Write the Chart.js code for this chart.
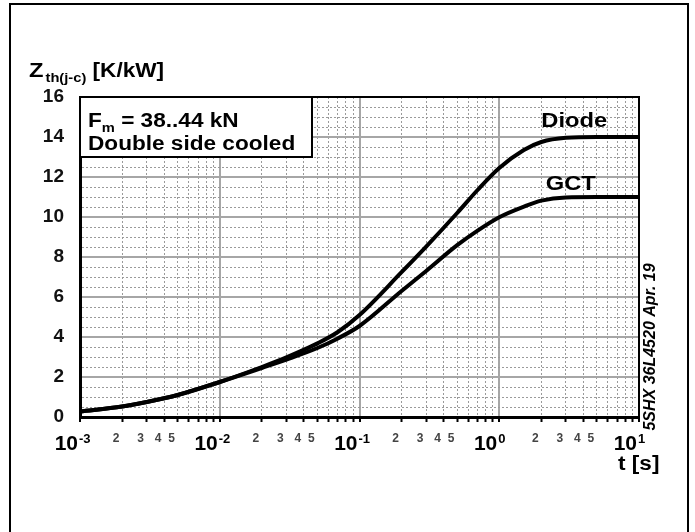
<!DOCTYPE html>
<html>
<head>
<meta charset="utf-8">
<script src="https://cdn.jsdelivr.net/npm/chart.js@4.4.1/dist/chart.umd.min.js"></script>
<style>
    html, body { margin: 0; padding: 0; background: #fff; }
    #wrap { width: 695px; height: 532px; }
</style>
</head>
<body>
<div id="wrap"><canvas id="Zth" width="695" height="532"></canvas></div>
<script>
// transient thermal impedance
const time_s    = [0.001, 0.002, 0.003, 0.005, 0.01, 0.02, 0.03, 0.05, 0.07, 0.1, 0.2, 0.3, 0.5, 0.7, 1, 1.5, 2, 3, 5, 10];
const zth_diode = [0.28, 0.52, 0.75, 1.10, 1.75, 2.50, 2.98, 3.68, 4.25, 5.10, 7.24, 8.52, 10.2, 11.35, 12.45, 13.35, 13.75, 13.96, 14.0, 14.0];
const zth_gct   = [0.28, 0.52, 0.75, 1.10, 1.75, 2.45, 2.87, 3.45, 3.93, 4.55, 6.30, 7.30, 8.59, 9.32, 9.99, 10.52, 10.82, 10.98, 11.0, 11.0];

const y_labels = [0, 2, 4, 6, 8, 10, 12, 14, 16];
const x_decades = [-3, -2, -1, 0, 1];
const x_minor_labels = [2, 3, 4, 5];

const FONT = "'Liberation Sans', Arial, sans-serif";
const SX = 1.13; // the original scan is a bit wider than tall

Chart.defaults.font.family = FONT;
Chart.defaults.font.weight = 'bold';
Chart.defaults.color = '#111';

function mantissa(v) {
    const e = Math.floor(Math.log10(v) + 1e-9);
    return Math.round(v / Math.pow(10, e));
}

function stretchText(ctx, text, x, y, font, align) {
    ctx.save();
    ctx.font = font;
    ctx.textAlign = align || 'left';
    ctx.textBaseline = 'alphabetic';
    ctx.translate(x, y);
    ctx.scale(SX, 1);
    ctx.fillText(text, 0, 0);
    const w = ctx.measureText(text).width * SX;
    ctx.restore();
    return w;
}

const decorations = {
    id: 'decorations',
    afterDatasetsDraw(chart) {
        const ctx = chart.ctx;
        const area = chart.chartArea;
        const xs = chart.scales.x;
        const ys = chart.scales.y;
        ctx.save();
        ctx.fillStyle = '#000';
        ctx.strokeStyle = '#000';

        // outer frame of the figure
        ctx.lineWidth = 2;
        ctx.beginPath();
        ctx.moveTo(10, chart.height + 5);
        ctx.lineTo(10, 4);
        ctx.lineTo(688, 4);
        ctx.lineTo(688, chart.height + 5);
        ctx.stroke();

        // top and right edges of the plot
        ctx.beginPath();
        ctx.moveTo(area.left, area.top);
        ctx.lineTo(area.right, area.top);
        ctx.lineTo(area.right, area.bottom);
        ctx.stroke();

        // condition box
        ctx.fillStyle = '#fff';
        ctx.fillRect(area.left, area.top, 232, 60);
        ctx.strokeRect(area.left, area.top, 232, 60);
        ctx.fillStyle = '#000';
        let x = area.left + 8;
        x += stretchText(ctx, 'F', x, area.top + 30, 'bold 20px ' + FONT);
        x += stretchText(ctx, 'm', x, area.top + 35, 'bold 13px ' + FONT);
        stretchText(ctx, ' = 38..44 kN', x, area.top + 30, 'bold 20px ' + FONT);
        stretchText(ctx, 'Double side cooled', area.left + 8, area.top + 53, 'bold 20px ' + FONT);

        // axis title
        x = 29;
        x += stretchText(ctx, 'Z', x, 77, 'bold 21px ' + FONT);
        x += 2;
        x += stretchText(ctx, 'th(j-c)', x, 82, 'bold 13px ' + FONT);
        stretchText(ctx, ' [K/kW]', x, 77, 'bold 20px ' + FONT);

        stretchText(ctx, 't [s]', 618, 470, 'bold 20px ' + FONT);

        // curve names
        stretchText(ctx, 'Diode', xs.getPixelForValue(2.0), ys.getPixelForValue(14.5), 'bold 21px ' + FONT);
        stretchText(ctx, 'GCT', xs.getPixelForValue(2.15), ys.getPixelForValue(11.35), 'bold 21px ' + FONT);

        // decade labels 10^n
        for (const e of x_decades) {
            const px = xs.getPixelForValue(Math.pow(10, e));
            ctx.font = 'bold 21px ' + FONT;
            ctx.textAlign = 'right';
            ctx.textBaseline = 'alphabetic';
            ctx.fillText('10', px - 2, area.bottom + 33);
            ctx.font = 'bold 13px ' + FONT;
            ctx.textAlign = 'left';
            ctx.fillText(e < 0 ? '-' + Math.abs(e) : String(e), px - 1, area.bottom + 26);
        }

        // drawing number, rotated
        ctx.save();
        ctx.translate(651, 347);
        ctx.rotate(-Math.PI / 2);
        ctx.font = 'italic bold 16px ' + FONT;
        ctx.textAlign = 'center';
        ctx.textBaseline = 'middle';
        ctx.fillText('5SHX 36L4520 Apr. 19', 0, 0);
        ctx.restore();

        ctx.restore();
    }
};

const MAJOR_GRID = '#a6a6a6';
const MINOR_GRID = '#9a9a9a';

function xIsDecade(c) {
    return c.tick && mantissa(c.tick.value) === 1;
}

function yIsMajor(c) {
    return c.tick && y_labels.includes(c.tick.value);
}

new Chart(document.getElementById('Zth'), {
    type: 'line',
    data: {
        datasets: [
            {
                label: 'Diode',
                data: time_s.map((t, i) => ({x: t, y: zth_diode[i]})),
                borderColor: '#000',
                borderWidth: 4,
                pointRadius: 0,
                cubicInterpolationMode: 'monotone',
                fill: false,
            },
            {
                label: 'GCT',
                data: time_s.map((t, i) => ({x: t, y: zth_gct[i]})),
                borderColor: '#000',
                borderWidth: 4,
                pointRadius: 0,
                cubicInterpolationMode: 'monotone',
                fill: false,
            }
        ]
    },
    options: {
        responsive: false,
        animation: false,
        layout: {
            padding: {top: 97, right: 56, left: 0, bottom: 0}
        },
        plugins: {
            legend: {display: false},
            tooltip: {enabled: false},
        },
        scales: {
            x: {
                type: 'logarithmic',
                min: 0.001,
                max: 10,
                offset: false,
                afterBuildTicks: (axis) => {
                    const ticks = [];
                    for (const e of x_decades) {
                        for (let m = 1; m <= 9; m++) {
                            const v = m * Math.pow(10, e);
                            if (v <= 10 + 1e-9) ticks.push({value: v});
                        }
                    }
                    axis.ticks = ticks;
                },
                afterFit: (axis) => {
                    axis.height = 115;
                },
                grid: {
                    color: (c) => xIsDecade(c) ? MAJOR_GRID : MINOR_GRID,
                    lineWidth: (c) => xIsDecade(c) ? 2 : 1,
                    drawTicks: true,
                    tickLength: 5,
                    tickColor: '#000',
                    tickWidth: 2,
                },
                border: {
                    display: true,
                    color: '#000',
                    width: 3,
                    dash: (c) => xIsDecade(c) ? [] : [2, 2],
                },
                ticks: {
                    autoSkip: false,
                    maxRotation: 0,
                    padding: 9,
                    labelOffset: -6,
                    color: '#444',
                    font: {size: 12, weight: 'bold'},
                    callback: (value) => {
                        const m = mantissa(value);
                        return x_minor_labels.includes(m) ? String(m) : '';
                    }
                }
            },
            y: {
                min: 0,
                max: 16,
                afterBuildTicks: (axis) => {
                    const ticks = [];
                    for (let v = 0; v <= 16; v += 0.5) ticks.push({value: v});
                    axis.ticks = ticks;
                },
                afterFit: (axis) => {
                    axis.width = 80;
                },
                grid: {
                    color: (c) => yIsMajor(c) ? MAJOR_GRID : MINOR_GRID,
                    lineWidth: (c) => yIsMajor(c) ? 2 : 1,
                    drawTicks: false,
                },
                border: {
                    display: true,
                    color: '#000',
                    width: 3,
                    dash: (c) => yIsMajor(c) ? [] : [2, 2],
                },
                ticks: {
                    autoSkip: false,
                    padding: 16,
                    color: '#111',
                    font: {size: 19, weight: 'bold'},
                    callback: (value) => y_labels.includes(value) ? String(value) : '',
                }
            }
        }
    },
    plugins: [decorations]
});
</script>
</body>
</html>
